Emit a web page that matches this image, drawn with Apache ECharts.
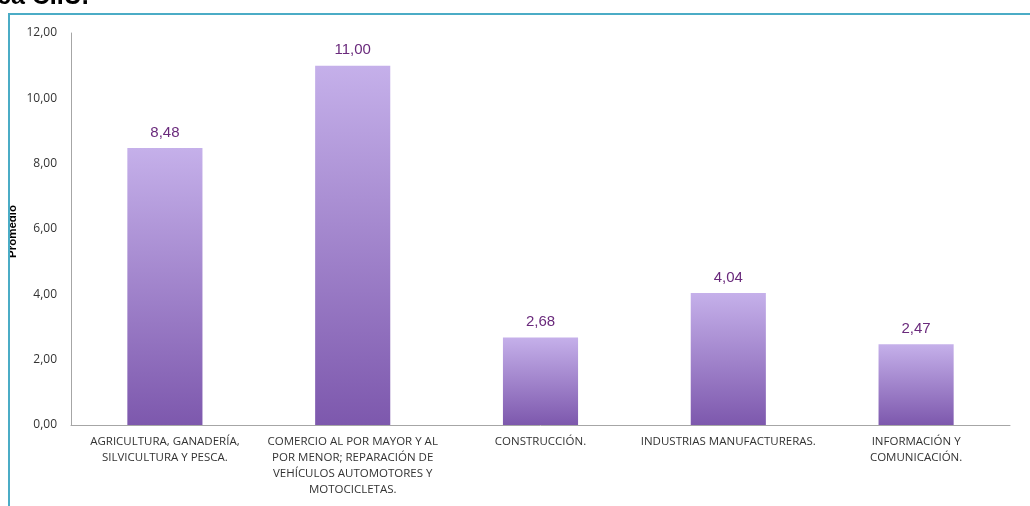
<!DOCTYPE html>
<html><head><meta charset="utf-8">
<script src="https://cdn.jsdelivr.net/npm/echarts@6/dist/echarts.min.js"></script>
<style>html,body{margin:0;padding:0;background:#fff}#c{width:1030px;height:506px}</style>
</head><body><div id="c"></div>
<script>
const categories = [
  'AGRICULTURA, GANADERÍA,\nSILVICULTURA Y PESCA.',
  'COMERCIO AL POR MAYOR Y AL\nPOR MENOR; REPARACIÓN DE\nVEHÍCULOS AUTOMOTORES Y\nMOTOCICLETAS.',
  'CONSTRUCCIÓN.',
  'INDUSTRIAS MANUFACTURERAS.',
  'INFORMACIÓN Y\nCOMUNICACIÓN.'
];
const values = [8.48, 11.00, 2.68, 4.04, 2.47];
const yAxisName = 'Promedio';
const titleText = 'ca CIIU.';

const chart = echarts.init(document.getElementById('c'));
const fmt = v => Number(v).toFixed(2).replace('.', ',');
chart.setOption({
  animation: false,
  grid: { left: 71, right: 20, top: 33, bottom: 81 },
  graphic: [
    { type: 'text', z: 1, x: -3, y: 10, style: { text: titleText, font: 'bold 25px "Liberation Sans", Arial, sans-serif', fill: '#000', verticalAlign: 'bottom' } },
    { type: 'text', z: 1, x: 7, y: 258, rotation: Math.PI / 2, style: { text: yAxisName, font: 'bold 11.5px "Liberation Sans", Arial, sans-serif', fill: '#000' } },
    { type: 'rect', z: 5, shape: { x: 0, y: 150, width: 9, height: 150 }, style: { fill: '#fff' } },
    { type: 'rect', z: 6, shape: { x: 9, y: 14, width: 1030, height: 520 }, style: { fill: 'none', stroke: '#4bacc6', lineWidth: 2 } }
  ],
  xAxis: {
    type: 'category', data: categories,
    axisLine: { lineStyle: { color: '#a6a6a6', width: 1 } },
    axisTick: { show: false },
    axisLabel: { interval: 0, color: '#333', fontSize: 11.5, lineHeight: 16, margin: 9, fontFamily: '"Open Sans", sans-serif' }
  },
  yAxis: {
    type: 'value', min: 0, max: 12, interval: 2,
    axisLine: { show: true, lineStyle: { color: '#a6a6a6', width: 1 } },
    axisTick: { show: false },
    splitLine: { show: false },
    axisLabel: { formatter: fmt, color: '#333', fontSize: 12, margin: 14, fontFamily: '"Open Sans", sans-serif' }
  },
  series: [{
    type: 'bar', data: values, barWidth: '40%',
    itemStyle: {
      color: new echarts.graphic.LinearGradient(0, 0, 0, 1, [
        { offset: 0, color: '#c5b0ea' },
        { offset: 1, color: '#7d58ad' }
      ])
    },
    label: { show: true, position: 'top', distance: 8, formatter: p => fmt(p.value), color: '#6a2a7c', fontSize: 15, fontFamily: '"Liberation Sans", Arial, sans-serif' }
  }]
});
</script></body></html>
